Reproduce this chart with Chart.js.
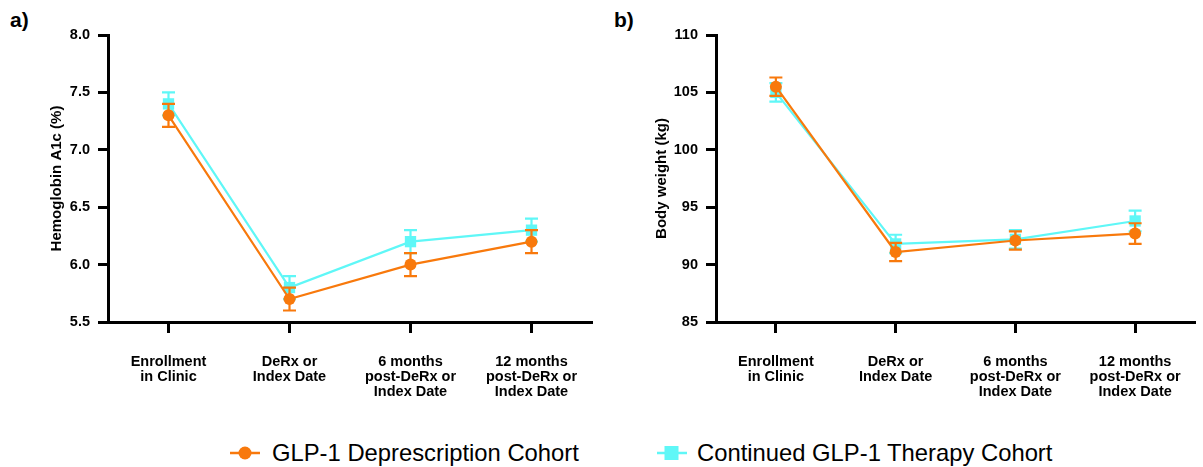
<!DOCTYPE html>
<html>
<head>
<meta charset="utf-8">
<script src="https://cdn.jsdelivr.net/npm/chart.js@4.4.1/dist/chart.umd.min.js"></script>
<style>
  html, body { margin:0; padding:0; background:#fff; }
  body { width:1203px; height:467px; overflow:hidden; position:relative; font-family:"Liberation Sans", Arial, Helvetica, sans-serif; }
  #wa { position:absolute; left:0; top:0; }
  #wb { position:absolute; left:600px; top:0; }
  .plab { position:absolute; font-weight:bold; font-size:21px; line-height:1; color:#000; }
  .leg { position:absolute; font-size:23.8px; line-height:1; color:#000; white-space:nowrap; }
  .mk { position:absolute; }
</style>
</head>
<body>
<div class="plab" style="left:10px; top:9px;">a)</div>
<div class="plab" style="left:614px; top:9px;">b)</div>
<canvas id="wa" width="600" height="420"></canvas>
<canvas id="wb" width="603" height="420"></canvas>

<svg class="mk" style="left:228px; top:443px;" width="34" height="20">
  <line x1="2" y1="10" x2="32" y2="10" stroke="#F8790C" stroke-width="2.5"/>
  <circle cx="17" cy="10" r="6.5" fill="#F8790C"/>
</svg>
<div class="leg" id="lg1" style="left:272px; top:441px;">GLP-1 Deprescription Cohort</div>
<svg class="mk" style="left:655px; top:443px;" width="34" height="20">
  <line x1="2" y1="10" x2="32" y2="10" stroke="#5FF7F7" stroke-width="2.5"/>
  <rect x="9.5" y="3" width="14" height="14" fill="#5FF7F7"/>
</svg>
<div class="leg" id="lg2" style="left:697px; top:441px;">Continued GLP-1 Therapy Cohort</div>

<script>
// ---- data ----
const categories = [
  ["Enrollment", "in Clinic"],
  ["DeRx or", "Index Date"],
  ["6 months", "post-DeRx or", "Index Date"],
  ["12 months", "post-DeRx or", "Index Date"]
];
const seriesNames = ["GLP-1 Deprescription Cohort", "Continued GLP-1 Therapy Cohort"];

const a1cDeprescription = [7.3, 5.7, 6.0, 6.2];
const a1cDeprescriptionErr = [0.1, 0.1, 0.1, 0.1];
const a1cContinued = [7.4, 5.8, 6.2, 6.3];
const a1cContinuedErr = [0.1, 0.1, 0.1, 0.1];

const weightDeprescription = [105.5, 91.1, 92.1, 92.7];
const weightDeprescriptionErr = [0.8, 0.8, 0.8, 0.9];
const weightContinued = [105.0, 91.8, 92.2, 93.8];
const weightContinuedErr = [0.8, 0.8, 0.8, 0.9];

const a1cTicks = [5.5, 6.0, 6.5, 7.0, 7.5, 8.0];
const weightTicks = [85, 90, 95, 100, 105, 110];

// ---- styling ----
const ORANGE = '#F8790C';
const CYAN = '#5FF7F7';
const FONT = '"Liberation Sans", Arial, Helvetica, sans-serif';

const errorBarPlugin = {
  id: 'errorBars',
  beforeDatasetDraw(chart, args, opts) {
    const errs = opts.errors[args.index];
    const ds = chart.data.datasets[args.index];
    const yScale = chart.scales.y;
    const ctx = chart.ctx;
    ctx.save();
    ctx.strokeStyle = ds.borderColor;
    ctx.lineWidth = 2.2;
    args.meta.data.forEach((pt, i) => {
      const v = ds.data[i], e = errs[i];
      const yt = yScale.getPixelForValue(v + e);
      const yb = yScale.getPixelForValue(v - e);
      const x = pt.x, w = 6.5;
      ctx.beginPath();
      ctx.moveTo(x, yt); ctx.lineTo(x, yb);
      ctx.moveTo(x - w, yt); ctx.lineTo(x + w, yt);
      ctx.moveTo(x - w, yb); ctx.lineTo(x + w, yb);
      ctx.stroke();
    });
    ctx.restore();
  }
};

function makeChart(id, d0, e0, d1, e1, ticks, title, yWidth, titlePad, padRight, fmt) {
  return new Chart(document.getElementById(id), {
    type: 'line',
    data: {
      labels: categories,
      datasets: [
        { label: seriesNames[0], data: d0, borderColor: ORANGE, backgroundColor: ORANGE,
          borderWidth: 2.2, pointStyle: 'circle', pointRadius: 6, pointHoverRadius: 6,
          pointBorderWidth: 0, tension: 0 },
        { label: seriesNames[1], data: d1, borderColor: CYAN, backgroundColor: CYAN,
          borderWidth: 2.2, pointStyle: 'rect', pointRadius: 8, pointHoverRadius: 8,
          pointBorderWidth: 0, tension: 0 }
      ]
    },
    options: {
      responsive: false,
      animation: false,
      devicePixelRatio: 1,
      layout: { padding: { top: 35, right: padRight, bottom: 0, left: 0 } },
      plugins: {
        legend: { display: false },
        tooltip: { enabled: false },
        errorBars: { errors: [e0, e1] }
      },
      scales: {
        x: {
          type: 'category',
          offset: true,
          grid: { offset: false, drawOnChartArea: false, drawTicks: true, tickLength: 11, tickWidth: 3, color: '#000' },
          border: { display: true, width: 3, color: '#000' },
          ticks: { color: '#000', padding: 21, maxRotation: 0, autoSkip: false,
                   font: { family: FONT, size: 14.5, weight: 'bold', lineHeight: 1.05 } },
          afterFit: s => { s.height = 98; }
        },
        y: {
          min: ticks[0], max: ticks[ticks.length - 1],
          afterBuildTicks: s => { s.ticks = ticks.map(v => ({ value: v })); },
          grid: { drawOnChartArea: false, drawTicks: true, tickLength: 10, tickWidth: 3, color: '#000' },
          border: { display: true, width: 3, color: '#000' },
          ticks: { color: '#000', padding: 8, callback: fmt,
                   font: { family: FONT, size: 14.5, weight: 'bold' } },
          title: { display: true, text: title, color: '#000',
                   font: { family: FONT, size: 15, weight: 'bold', lineHeight: 1.2 },
                   padding: { top: titlePad, bottom: 0 } },
          afterFit: s => { s.width = yWidth; }
        }
      }
    },
    plugins: [errorBarPlugin]
  });
}

makeChart('wa', a1cDeprescription, a1cDeprescriptionErr, a1cContinued, a1cContinuedErr,
  a1cTicks, 'Hemoglobin A1c (%)', 108, 48, 7, v => Number(v).toFixed(1));
makeChart('wb', weightDeprescription, weightDeprescriptionErr, weightContinued, weightContinuedErr,
  weightTicks, 'Body weight (kg)', 116, 53, 3, v => String(v));
</script>
</body>
</html>
